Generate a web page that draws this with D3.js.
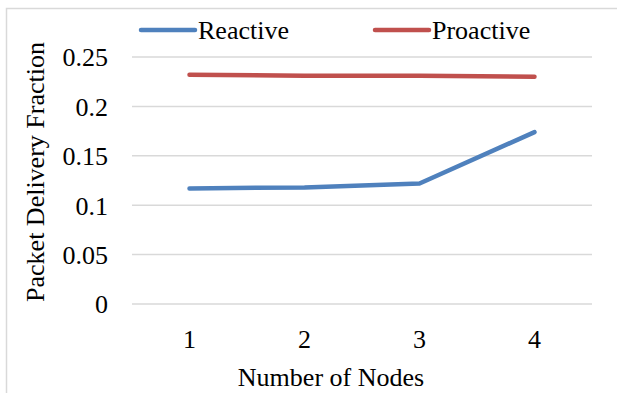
<!DOCTYPE html>
<html>
<head>
<meta charset="utf-8">
<script src="https://cdn.jsdelivr.net/npm/d3@7"></script>
<style>
  html, body { margin: 0; padding: 0; background: #fff; }
  svg { display: block; }
  svg text { font-family: "Liberation Serif", "Times New Roman", serif !important; fill: #000; }
</style>
</head>
<body>
<script>
// Packet delivery fraction by number of nodes
const categories = ["1", "2", "3", "4"];
const reactive = [0.117, 0.118, 0.122, 0.174];
const proactive = [0.232, 0.231, 0.231, 0.230];
const yTicks = [0, 0.05, 0.1, 0.15, 0.2, 0.25];
const yTickLabels = ["0", "0.05", "0.1", "0.15", "0.2", "0.25"];
const seriesNames = ["Reactive", "Proactive"];
const seriesColors = ["#4F81BD", "#C0504D"];

const W = 617, H = 393;
const FONT = "Liberation Serif, Times New Roman, serif";
const FS = 26;

const svg = d3.select("body").append("svg")
  .attr("width", W).attr("height", H)
  .attr("font-family", FONT);

// chart frame
svg.append("rect")
  .attr("x", 6.5).attr("y", 8.5).attr("width", 640).attr("height", 420)
  .attr("fill", "#fff").attr("stroke", "#d9d9d9").attr("stroke-width", 1.5);

const plot = { left: 132, right: 592, top: 57, bottom: 304 };

const x = d3.scaleBand().domain(categories).range([plot.left, plot.right]);
const y = d3.scaleLinear().domain([0, 0.25]).range([plot.bottom, plot.top]);

// gridlines
svg.append("g")
  .selectAll("line").data(yTicks).join("line")
  .attr("x1", plot.left).attr("x2", plot.right)
  .attr("y1", d => y(d)).attr("y2", d => y(d))
  .attr("stroke", "#d9d9d9").attr("stroke-width", 1.5);

// y axis labels
const yAxis = d3.axisLeft(y).tickValues(yTicks)
  .tickFormat((d, i) => yTickLabels[i]).tickSize(0).tickPadding(0);
svg.append("g").attr("transform", `translate(${plot.left - 24},0)`).call(yAxis)
  .call(g => g.select(".domain").remove())
  .call(g => g.attr("font-family", FONT).attr("font-size", FS))
  .call(g => g.selectAll("text").attr("fill", "#000").attr("dy", "0.34em"));

// x axis labels
const xAxis = d3.axisBottom(x).tickSize(0).tickPadding(0);
svg.append("g").attr("transform", `translate(0,${plot.bottom + 26})`).call(xAxis)
  .call(g => g.select(".domain").remove())
  .call(g => g.attr("font-family", FONT).attr("font-size", FS))
  .call(g => g.selectAll("text").attr("fill", "#000").attr("dy", "0.71em"));

// axis titles
svg.append("text")
  .attr("x", 331).attr("y", 386)
  .attr("text-anchor", "middle").attr("font-size", FS)
  .text("Number of Nodes");
svg.append("text")
  .attr("transform", "translate(44,172) rotate(-90)")
  .attr("text-anchor", "middle").attr("font-size", FS)
  .text("Packet Delivery Fraction");

// series lines
const line = d3.line()
  .x((d, i) => x(categories[i]) + x.bandwidth() / 2)
  .y(d => y(d));
[reactive, proactive].forEach((vals, i) => {
  svg.append("path")
    .datum(vals)
    .attr("d", line)
    .attr("fill", "none")
    .attr("stroke", seriesColors[i])
    .attr("stroke-width", 4.5)
    .attr("stroke-linecap", "round")
    .attr("stroke-linejoin", "round");
});

// legend
const legendX = [141, 375];
seriesNames.forEach((name, i) => {
  const g = svg.append("g").attr("transform", `translate(${legendX[i]},30)`);
  g.append("line").attr("x1", 0).attr("x2", 54).attr("y1", 0).attr("y2", 0)
    .attr("stroke", seriesColors[i]).attr("stroke-width", 4.5)
    .attr("stroke-linecap", "round");
  g.append("text").attr("x", 57).attr("y", 9).attr("font-size", FS).text(name);
});
</script>
</body>
</html>
